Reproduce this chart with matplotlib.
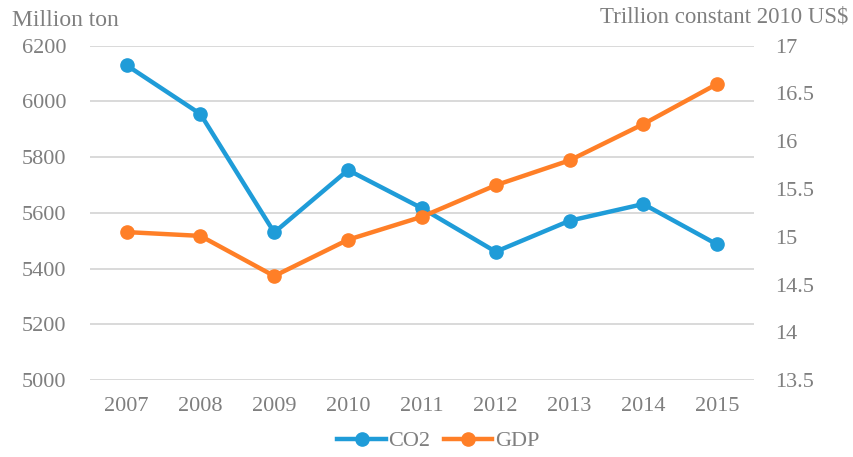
import matplotlib
matplotlib.use("Agg")
import matplotlib.pyplot as plt

years = ["2007", "2008", "2009", "2010", "2011", "2012", "2013", "2014", "2015"]
co2 = [6130, 5955, 5530, 5754, 5617, 5461, 5572, 5632, 5487]
gdp = [15.05, 15.01, 14.59, 14.97, 15.21, 15.54, 15.80, 16.18, 16.60]
left_ticks = [5000, 5200, 5400, 5600, 5800, 6000, 6200]
right_ticks = [13.5, 14, 14.5, 15, 15.5, 16, 16.5, 17]
right_labels = ["13.5", "14", "14.5", "15", "15.5", "16", "16.5", "17"]

plt.rcParams['font.family'] = ['Liberation Serif', 'DejaVu Serif']
txt = "#7f7f7f"
blue = "#1f9cd8"
orange = "#ff7f27"
fs = 16

fig = plt.figure(figsize=(8.54, 4.57), dpi=100)
ax = fig.add_axes([0.105, 0.168, 0.778, 0.732])
ax2 = ax.twinx()

x = list(range(len(years)))
l1, = ax.plot(x, co2, color=blue, lw=3.2, marker='o', ms=9.5, label="CO2", zorder=3)
l2, = ax2.plot(x, gdp, color=orange, lw=3.2, marker='o', ms=9.5, label="GDP", zorder=3)

ax.set_ylim(5000, 6200)
ax.set_yticks(left_ticks)
ax.set_yticklabels([str(v) for v in left_ticks])
ax2.set_ylim(13.5, 17)
ax2.set_yticks(right_ticks)
ax2.set_yticklabels(right_labels)
ax.set_xlim(-0.5, len(years) - 0.5)
ax.set_xticks(x)
ax.set_xticklabels(years)

ax.grid(axis='y', color='#d9d9d9', lw=1.4)
ax.set_axisbelow(True)
for a in (ax, ax2):
    for s in a.spines.values():
        s.set_visible(False)
    a.tick_params(length=0, labelsize=fs, colors=txt)
ax.tick_params(axis='y', pad=17)
ax2.tick_params(axis='y', pad=15)
ax.tick_params(axis='x', pad=12)

fig.text(0.014, 0.955, "Million ton", fontsize=17, color=txt, ha='left', va='center')
fig.text(0.993, 0.962, "Trillion constant 2010 US$", fontsize=16.5, color=txt, ha='right', va='center')

fig.legend(handles=[l1, l2], loc='center', bbox_to_anchor=(0.513, 0.035), ncol=2,
           frameon=False, fontsize=fs, labelcolor=txt, handlelength=2.2,
           handletextpad=0.1, columnspacing=0.6)

fig.savefig("out.png", dpi=100)
